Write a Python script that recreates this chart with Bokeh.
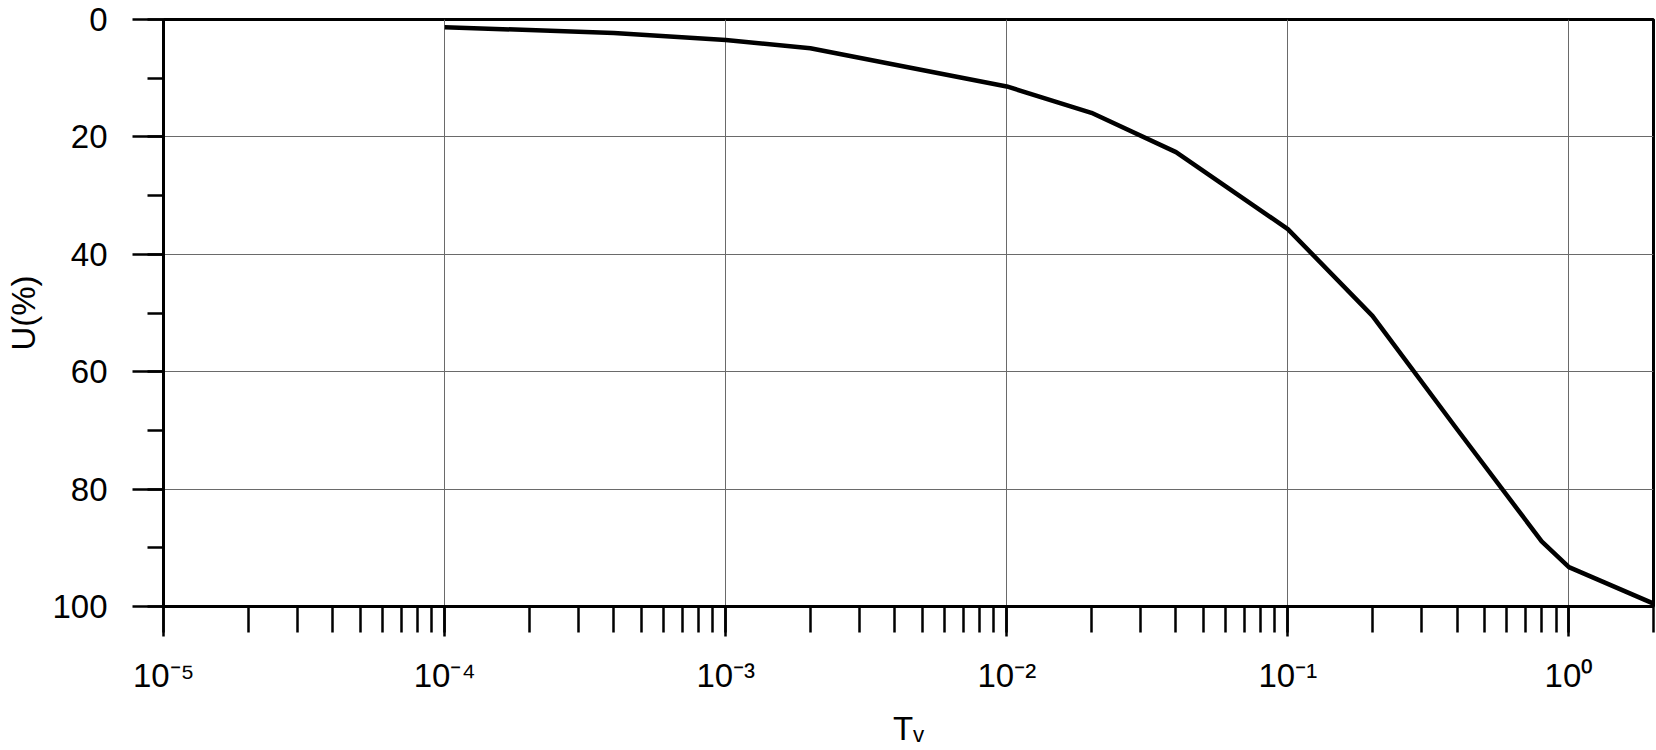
from bokeh.plotting import figure
from bokeh.models import Range1d, SingleIntervalTicker, LogTicker, CustomJSTickFormatter
from bokeh.embed import file_html
from bokeh.resources import INLINE

# Data (time factor Tv vs degree of consolidation U)
tv_values = [1e-4, 4e-4, 1e-3, 2e-3, 1e-2, 2e-2, 4e-2, 0.1, 0.2, 0.4, 0.8, 1.0, 2.0]
u_values = [1.3, 2.3, 3.5, 4.9, 11.4, 15.9, 22.6, 35.7, 50.5, 69.8, 88.9, 93.3, 99.5]
x_exponents = [-5, -4, -3, -2, -1, 0]
x_tick_labels = ["10\u207b\u2075", "10\u207b\u2074", "10\u207b\u00b3", "10\u207b\u00b2", "10\u207b\u00b9", "10\u2070"]
y_ticks = [0, 20, 40, 60, 80, 100]

FONT = "Liberation Sans"

p = figure(width=1656, height=750, x_axis_type="log",
           x_range=Range1d(9.99e-6, 2.0), y_range=Range1d(100, 0),
           output_backend="svg", toolbar_location=None,
           min_border_left=163, min_border_right=3, min_border_top=19, min_border_bottom=144)

p.background_fill_color = "white"
p.border_fill_color = "white"
p.outline_line_color = "black"
p.outline_line_width = 3

# x axis (log)
p.xaxis.ticker = LogTicker(num_minor_ticks=10)
p.xaxis.formatter = CustomJSTickFormatter(
    args=dict(labels=x_tick_labels, exps=x_exponents),
    code="const e = Math.round(Math.log10(tick)); const i = exps.indexOf(e); return i >= 0 ? labels[i] : '';")
p.xaxis.axis_line_width = 3
p.xaxis.axis_line_color = "black"
p.xaxis.major_tick_in = 0
p.xaxis.major_tick_out = 30
p.xaxis.minor_tick_in = 0
p.xaxis.minor_tick_out = 26
p.xaxis.major_tick_line_width = 2.5
p.xaxis.minor_tick_line_width = 2.5
p.xaxis.major_tick_line_color = "black"
p.xaxis.minor_tick_line_color = "black"
p.xaxis.major_label_standoff = 20
p.xaxis.major_label_text_font = FONT
p.xaxis.major_label_text_font_size = "33px"
p.xaxis.major_label_text_color = "black"
p.xaxis.axis_label = "T\u1d65"
p.xaxis.axis_label_text_font = FONT
p.xaxis.axis_label_text_font_size = "33px"
p.xaxis.axis_label_text_font_style = "normal"
p.xaxis.axis_label_text_color = "black"
p.xaxis.axis_label_standoff = 13

# y axis
p.yaxis.ticker = SingleIntervalTicker(interval=20, num_minor_ticks=2)
p.yaxis.axis_line_width = 3
p.yaxis.axis_line_color = "black"
p.yaxis.major_tick_in = 0
p.yaxis.major_tick_out = 31
p.yaxis.minor_tick_in = 0
p.yaxis.minor_tick_out = 16
p.yaxis.major_tick_line_width = 2.5
p.yaxis.minor_tick_line_width = 2.5
p.yaxis.major_label_standoff = 25
p.yaxis.major_label_text_font = FONT
p.yaxis.major_label_text_font_size = "33px"
p.yaxis.major_label_text_color = "black"
p.yaxis.axis_label = "U(%)"
p.yaxis.axis_label_text_font = FONT
p.yaxis.axis_label_text_font_size = "33px"
p.yaxis.axis_label_text_font_style = "normal"
p.yaxis.axis_label_text_color = "black"
p.yaxis.axis_label_standoff = 7

# grid
p.xgrid.grid_line_color = "#6a6a6a"
p.ygrid.grid_line_color = "#6a6a6a"
p.xgrid.grid_line_width = 1
p.ygrid.grid_line_width = 1

# curve
p.line(tv_values, u_values, line_color="black", line_width=4.5, line_join="round")

open("out.html", "w").write(file_html(p, INLINE))
